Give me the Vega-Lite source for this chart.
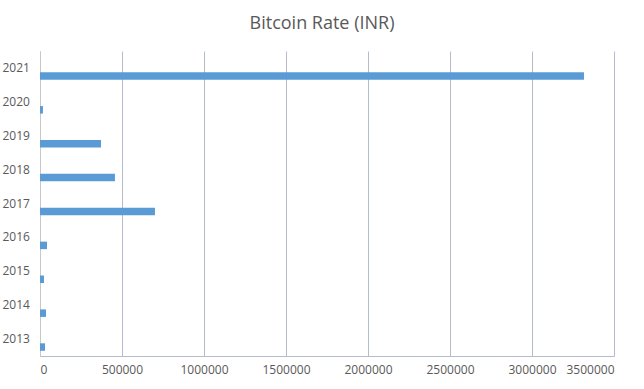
{
  "$schema": "https://vega.github.io/schema/vega-lite/v6.json",
  "width": 574,
  "height": 305,
  "autosize": {"type": "none"},
  "padding": {"left": 40, "top": 51, "right": 30, "bottom": 33},
  "background": "white",
  "title": {
    "text": "Bitcoin Rate (INR)",
    "fontSize": 18,
    "font": "Open Sans",
    "fontWeight": "normal",
    "color": "#595959",
    "anchor": "middle",
    "frame": "group",
    "offset": 18,
    "dx": -5
  },
  "data": {
    "values": [
      {"year": "2013", "rate": 30500},
      {"year": "2014", "rate": 36600},
      {"year": "2015", "rate": 24400},
      {"year": "2016", "rate": 42700},
      {"year": "2017", "rate": 701000},
      {"year": "2018", "rate": 457000},
      {"year": "2019", "rate": 372000},
      {"year": "2020", "rate": 18000},
      {"year": "2021", "rate": 3317000}
    ]
  },
  "mark": {"type": "bar", "color": "#5B9BD5", "size": 7.5, "yOffset": 8},
  "encoding": {
    "y": {
      "field": "year",
      "type": "ordinal",
      "sort": "descending",
      "scale": {"paddingInner": 0, "paddingOuter": 0},
      "axis": {
        "title": null,
        "ticks": false,
        "domain": true,
        "domainColor": "#c8c8c8",
        "grid": false,
        "labelAlign": "left",
        "labelPadding": 38,
        "labelFont": "Open Sans",
        "labelFontSize": 12,
        "labelColor": "#595959"
      }
    },
    "x": {
      "field": "rate",
      "type": "quantitative",
      "scale": {"domain": [0, 3500000], "nice": false},
      "axis": {
        "title": null,
        "values": [0, 500000, 1000000, 1500000, 2000000, 2500000, 3000000, 3500000],
        "format": "d",
        "ticks": false,
        "domainColor": "#b4bccc",
        "gridColor": "#b4bccc",
        "grid": true,
        "labelPadding": 8,
        "labelFont": "Open Sans",
        "labelFontSize": 12,
        "labelColor": "#595959"
      }
    }
  },
  "config": {"view": {"stroke": null}}
}
